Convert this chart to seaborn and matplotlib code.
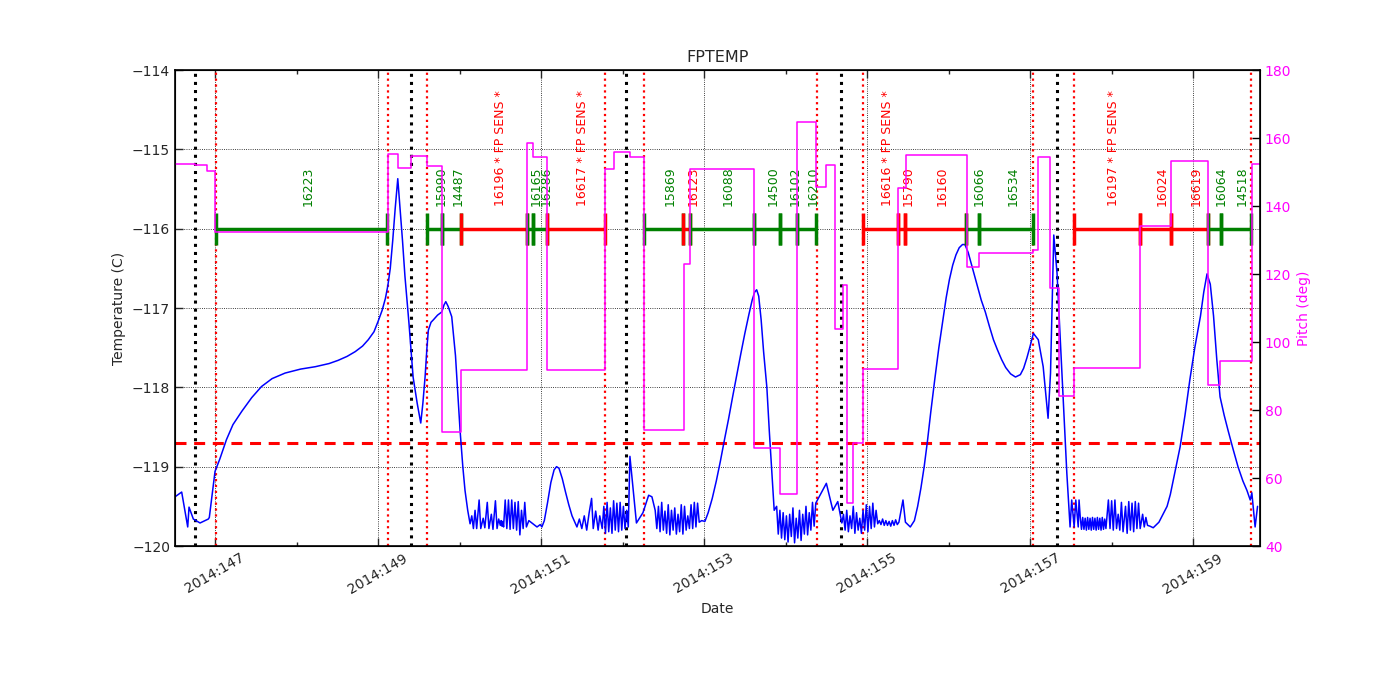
#FPTEMP with pitch and observation segments
#Recreate the focal plane temperature plot for 2014:147-159.

#Import the required libraries
import matplotlib
matplotlib.use('Agg')
import matplotlib.pyplot as plt
import matplotlib.ticker as mtick
import seaborn as sns


# Focal plane temperature (day of year 2014, deg C)
temp_day = [146.509, 146.591, 146.665, 146.681, 146.734, 146.816, 146.918, 146.930,
            147.000, 147.06, 147.14, 147.22, 147.33, 147.45, 147.57, 147.70, 147.86,
            148.05, 148.23, 148.40, 148.51, 148.62, 148.72, 148.81, 148.88, 148.95,
            149.00, 149.05, 149.09, 149.12, 149.15, 149.18, 149.21, 149.242,
            149.27, 149.30, 149.33, 149.38, 149.43, 149.48, 149.524, 149.55, 149.577,
            149.60, 149.617, 149.65, 149.678, 149.73, 149.782, 149.81, 149.831,
            149.86, 149.904, 149.95, 150.006, 150.04, 150.067, 150.10, 150.129,
            150.15, 150.17, 150.19, 150.21, 150.24, 150.26, 150.29, 150.31, 150.34,
            150.36, 150.39, 150.41, 150.44, 150.46, 150.48, 150.50, 150.51, 150.52,
            150.53, 150.54, 150.56, 150.58, 150.60, 150.62, 150.64, 150.66, 150.68,
            150.70, 150.72, 150.74, 150.76, 150.78, 150.80, 150.82, 150.85, 150.90,
            150.95, 150.99,
            151.01, 151.04, 151.08, 151.12, 151.16, 151.19, 151.22, 151.26, 151.30,
            151.34, 151.38, 151.44,
            151.47, 151.50, 151.53, 151.56, 151.59, 151.62, 151.64, 151.67, 151.70,
            151.72, 151.75, 151.77, 151.79, 151.81, 151.83, 151.85, 151.87, 151.89,
            151.91, 151.93, 151.95, 151.97, 151.99, 152.01, 152.03, 152.05, 152.07,
            152.09, 152.17, 152.25, 152.32, 152.36, 152.40,
            152.42, 152.44, 152.46, 152.48, 152.50, 152.52, 152.54, 152.56, 152.58,
            152.60, 152.62, 152.64, 152.66, 152.68, 152.70, 152.72, 152.74, 152.76,
            152.78, 152.80, 152.82, 152.84, 152.86, 152.88, 152.90, 152.92, 152.94,
            152.97, 153.01,
            153.05, 153.10, 153.15, 153.20, 153.25, 153.30, 153.35, 153.40, 153.45,
            153.50, 153.55, 153.59, 153.62, 153.645, 153.67, 153.70, 153.73, 153.77,
            153.80, 153.83, 153.86,
            153.89, 153.91, 153.93, 153.95, 153.97, 153.99, 154.01, 154.03, 154.05,
            154.07, 154.09, 154.11, 154.13, 154.15, 154.17, 154.19, 154.21, 154.23,
            154.25, 154.27, 154.29, 154.31, 154.33, 154.35, 154.37,
            154.50, 154.58, 154.64, 154.69,
            154.71, 154.73, 154.75, 154.77, 154.79, 154.81, 154.83, 154.85, 154.87,
            154.89, 154.91, 154.93, 154.95, 154.97, 154.99, 155.01, 155.03, 155.05,
            155.07, 155.09, 155.11, 155.13, 155.15, 155.17, 155.19, 155.21, 155.23,
            155.25, 155.27, 155.29, 155.31, 155.33, 155.35, 155.37, 155.39, 155.44,
            155.47, 155.53,
            155.58, 155.62, 155.66, 155.70, 155.74, 155.78, 155.83, 155.88, 155.93,
            155.97, 156.01, 156.05, 156.09, 156.13, 156.17, 156.20, 156.24, 156.28,
            156.32, 156.36, 156.40, 156.45, 156.50, 156.55, 156.60, 156.65, 156.70,
            156.76, 156.82, 156.88, 156.92, 156.96, 157.00, 157.04,
            157.10, 157.16, 157.22, 157.25, 157.29, 157.33, 157.39, 157.45,
            157.49, 157.51, 157.54, 157.56, 157.59, 157.60,
            157.615, 157.63, 157.645, 157.66, 157.675, 157.69, 157.705, 157.72,
            157.735, 157.75, 157.765, 157.78, 157.795, 157.81, 157.825, 157.84,
            157.855, 157.87, 157.885, 157.90, 157.915, 157.93,
            157.96, 157.98, 158.00, 158.02, 158.04, 158.06, 158.08, 158.10, 158.12,
            158.14, 158.17, 158.19, 158.21, 158.23, 158.25, 158.27, 158.29, 158.31,
            158.33, 158.35, 158.38, 158.40, 158.42, 158.44, 158.47,
            158.51, 158.58, 158.64, 158.68, 158.72, 158.74, 158.78, 158.84, 158.90,
            158.96, 159.02, 159.09, 159.13, 159.17, 159.21, 159.25, 159.29, 159.33,
            159.38, 159.43, 159.49, 159.55, 159.61, 159.66, 159.70, 159.72, 159.76,
            159.79]

temp_c = [-119.38, -119.32, -119.76, -119.51, -119.66, -119.71, -119.66, -119.64,
          -119.06, -118.90, -118.66, -118.47, -118.30, -118.13, -117.99, -117.89, -117.82,
          -117.77, -117.74, -117.70, -117.66, -117.61, -117.55, -117.48, -117.40, -117.30,
          -117.17, -117.03, -116.88, -116.72, -116.50, -116.15, -115.75, -115.37,
          -115.75, -116.15, -116.60, -117.20, -117.87, -118.20, -118.45, -118.20, -117.87,
          -117.50, -117.28, -117.18, -117.15, -117.09, -117.05, -116.96, -116.92,
          -116.98, -117.11, -117.60, -118.54, -119.00, -119.30, -119.55, -119.72,
          -119.62, -119.78, -119.55, -119.78, -119.42, -119.78, -119.65, -119.77, -119.45,
          -119.78, -119.60, -119.79, -119.43, -119.78, -119.66, -119.74, -119.68, -119.75,
          -119.69, -119.76, -119.42, -119.78, -119.42, -119.79, -119.42, -119.78, -119.45,
          -119.80, -119.44, -119.86, -119.55, -119.78, -119.45, -119.76, -119.68, -119.72,
          -119.76, -119.73,
          -119.76, -119.68, -119.45, -119.20, -119.04, -119.00, -119.02, -119.15, -119.32,
          -119.48, -119.62, -119.76,
          -119.66, -119.78, -119.62, -119.80, -119.58, -119.40, -119.78, -119.56, -119.80,
          -119.62, -119.78, -119.50, -119.84, -119.45, -119.82, -119.52, -119.84, -119.43,
          -119.80, -119.46, -119.82, -119.45, -119.80, -119.50, -119.78, -119.55, -119.76,
          -118.87, -119.71, -119.58, -119.36, -119.38, -119.55,
          -119.78, -119.50, -119.82, -119.45, -119.80, -119.56, -119.84, -119.48, -119.86,
          -119.55, -119.80, -119.52, -119.85, -119.60, -119.82, -119.48, -119.85, -119.50,
          -119.80, -119.62, -119.78, -119.48, -119.78, -119.45, -119.76, -119.46, -119.70,
          -119.68, -119.69,
          -119.58, -119.40, -119.18, -118.93, -118.66, -118.40, -118.12, -117.85, -117.58,
          -117.32, -117.08, -116.90, -116.80, -116.77, -116.85, -117.15, -117.55, -118.00,
          -118.55, -119.05, -119.55,
          -119.50, -119.85, -119.55, -119.90, -119.58, -119.92, -119.62, -119.95, -119.60,
          -119.88, -119.52, -119.96, -119.65, -119.90, -119.55, -119.93, -119.60, -119.85,
          -119.50, -119.86, -119.58, -119.80, -119.45, -119.75, -119.46,
          -119.21, -119.55, -119.44, -119.71,
          -119.60, -119.80, -119.55, -119.82, -119.62, -119.78, -119.50, -119.84, -119.58,
          -119.80, -119.65, -119.84, -119.55, -119.80, -119.48, -119.82, -119.50, -119.78,
          -119.46, -119.76, -119.55, -119.72, -119.68, -119.73, -119.66, -119.74, -119.68,
          -119.74, -119.69, -119.75, -119.68, -119.74, -119.67, -119.73, -119.70, -119.42,
          -119.70, -119.76,
          -119.68, -119.50, -119.27, -119.00, -118.68, -118.32, -117.90, -117.50, -117.15,
          -116.87, -116.64, -116.46, -116.33, -116.24, -116.20, -116.20, -116.30, -116.45,
          -116.60, -116.75, -116.90, -117.05, -117.23, -117.40, -117.53, -117.65, -117.75,
          -117.83, -117.87, -117.84, -117.76, -117.63, -117.48, -117.32,
          -117.40, -117.74, -118.39, -117.82, -116.08, -116.56, -117.82, -119.08,
          -119.76, -119.42, -119.76, -119.42, -119.76, -119.42,
          -119.64, -119.79, -119.64, -119.79, -119.65, -119.80, -119.64, -119.79,
          -119.65, -119.80, -119.64, -119.79, -119.65, -119.80, -119.64, -119.79,
          -119.65, -119.80, -119.64, -119.79, -119.66, -119.78,
          -119.42, -119.78, -119.43, -119.80, -119.42, -119.78, -119.60, -119.80, -119.45,
          -119.82, -119.50, -119.84, -119.44, -119.80, -119.46, -119.82, -119.44, -119.78,
          -119.46, -119.78, -119.60, -119.76, -119.64, -119.74, -119.75,
          -119.77, -119.70, -119.58, -119.50, -119.35, -119.25, -119.05, -118.75, -118.35,
          -117.90, -117.50, -117.10, -116.80, -116.57, -116.70, -117.10, -117.65, -118.12,
          -118.35, -118.55, -118.78, -119.00, -119.18, -119.30, -119.42, -119.33, -119.76,
          -119.50]

# Pitch angle steps (deg)
pitch_day = [146.509, 146.75, 146.90, 147.00, 149.12, 149.24, 149.41, 149.60, 149.78,
             150.02, 150.83, 150.90, 151.07, 151.79, 151.89, 152.09, 152.26, 152.75,
             152.83, 153.61, 153.93, 154.14, 154.37, 154.50, 154.60, 154.71, 154.75,
             154.83, 154.95, 155.38, 155.48, 156.22, 156.37, 157.04, 157.10, 157.24,
             157.36, 157.54, 158.35, 158.73, 159.18, 159.33, 159.72, 159.82]
pitch_deg = [152.3, 152.0, 150.2, 132.5, 155.2, 151.1, 154.8, 151.8, 73.5,
             91.8, 158.4, 154.5, 91.8, 150.9, 156.0, 154.5, 74.1, 122.9,
             150.8, 68.7, 55.2, 164.6, 145.7, 152.1, 103.8, 116.8, 52.6,
             70.2, 92.0, 145.2, 155.0, 122.0, 126.2, 127.0, 154.3, 115.8,
             84.1, 92.3, 134.2, 153.2, 87.4, 94.5, 152.5, 152.5]

# Observations
obsids = ['16223', '15990', '14487', '16196 * FP SENS *', '16165', '16286',
          '16617 * FP SENS *', '15869', '16123', '16088', '14500', '16102', '16210',
          '16616 * FP SENS *', '15790', '16160', '16066', '16534',
          '16197 * FP SENS *', '16024', '16619', '16064', '14518']
obs_start = [147.01, 149.605, 149.782, 150.018, 150.824, 150.906, 151.07, 152.264,
             152.746, 152.828, 153.613, 153.933, 154.137, 154.955, 155.377, 155.466,
             156.211, 156.374, 157.54, 158.35, 158.727, 159.176, 159.34]
obs_stop = [149.114, 149.782, 150.018, 150.824, 150.906, 151.07, 151.785, 152.746,
            152.828, 153.613, 153.933, 154.137, 154.374, 155.377, 155.466, 156.211,
            156.374, 157.04, 158.35, 158.727, 159.176, 159.34, 159.708]
obs_color = ['g', 'g', 'g', 'r', 'g', 'g', 'r', 'g', 'r', 'g', 'g', 'g', 'g',
             'r', 'r', 'r', 'g', 'g', 'r', 'r', 'r', 'g', 'g']

# Orbit markers
black_lines = [146.755, 149.405, 152.045, 154.68, 157.325]
red_lines = [147.01, 149.125, 149.60, 151.785, 152.264, 154.385, 154.955, 157.04,
             157.54, 159.71]
limit_temp = -118.7
date_ticks = [147, 149, 151, 153, 155, 157, 159]


sns.set_style('white', {'xtick.direction': 'in', 'ytick.direction': 'in',
                        'axes.edgecolor': 'black', 'xtick.bottom': True,
                        'xtick.top': True, 'ytick.left': True})
plt.rcParams['font.family'] = ['DejaVu Sans']
plt.rcParams['font.size'] = 10

fig = plt.figure(figsize=(14, 7), dpi=100)
ax = fig.add_axes([0.125, 0.22, 0.775, 0.68])
ax2 = ax.twinx()

# Vertical orbit lines
for d in black_lines:
    ax.axvline(d, color='k', linestyle=':', linewidth=2.2)
for d in red_lines:
    ax.axvline(d, color='r', linestyle=':', linewidth=1.6)

# Limit
ax.axhline(limit_temp, color='r', linestyle=(0, (3.6, 2.5)), linewidth=2.2)

# Temperature
sns.lineplot(x=temp_day, y=temp_c, ax=ax, color='b', linewidth=1.1,
             estimator=None, sort=False)

# Observation segments
for name, t0, t1, c in zip(obsids, obs_start, obs_stop, obs_color):
    ax.plot([t0, t1], [-116, -116], color=c, linewidth=2.5, marker='|',
            markersize=23, markeredgewidth=2.5)
    ax.text((t0 + t1) / 2, -115.71, name, color=c, rotation=90, fontsize=9,
            ha='left', va='bottom')

# Pitch
sns.lineplot(x=pitch_day, y=pitch_deg, ax=ax2, color='magenta', linewidth=1.1,
             estimator=None, sort=False, drawstyle='steps-post')

ax.set_xlim(146.509, 159.82)
ax.set_ylim(-120, -114)
ax2.set_ylim(40, 180)
ax.set_xticks(date_ticks)
ax.xaxis.set_minor_locator(mtick.MultipleLocator(1))
ax.xaxis.set_major_formatter(mtick.FuncFormatter(lambda v, p: '2014:%03d' % round(v)))
ax.yaxis.set_major_locator(mtick.MultipleLocator(1))
ax2.yaxis.set_major_locator(mtick.MultipleLocator(20))
ax.grid(True, which='major', color='k', linestyle=':', linewidth=0.6)

for label in ax.get_xticklabels():
    label.set_rotation(30)
    label.set_ha('center')
ax.tick_params(which='major', length=6, width=1)
ax.tick_params(which='minor', length=3, width=1)
ax.tick_params(axis='y', right=False)
ax2.tick_params(axis='y', length=6, width=1, colors='magenta')
ax2.tick_params(axis='y', color='k')
for spine in ax2.spines.values():
    spine.set_linewidth(1.2)

ax.set_title('FPTEMP', fontsize=11.5)
ax.set_xlabel('Date')
ax.set_ylabel('Temperature (C)')
ax2.set_ylabel('Pitch (deg)', color='magenta')

fig.savefig('out.png', dpi=100, facecolor='white')
